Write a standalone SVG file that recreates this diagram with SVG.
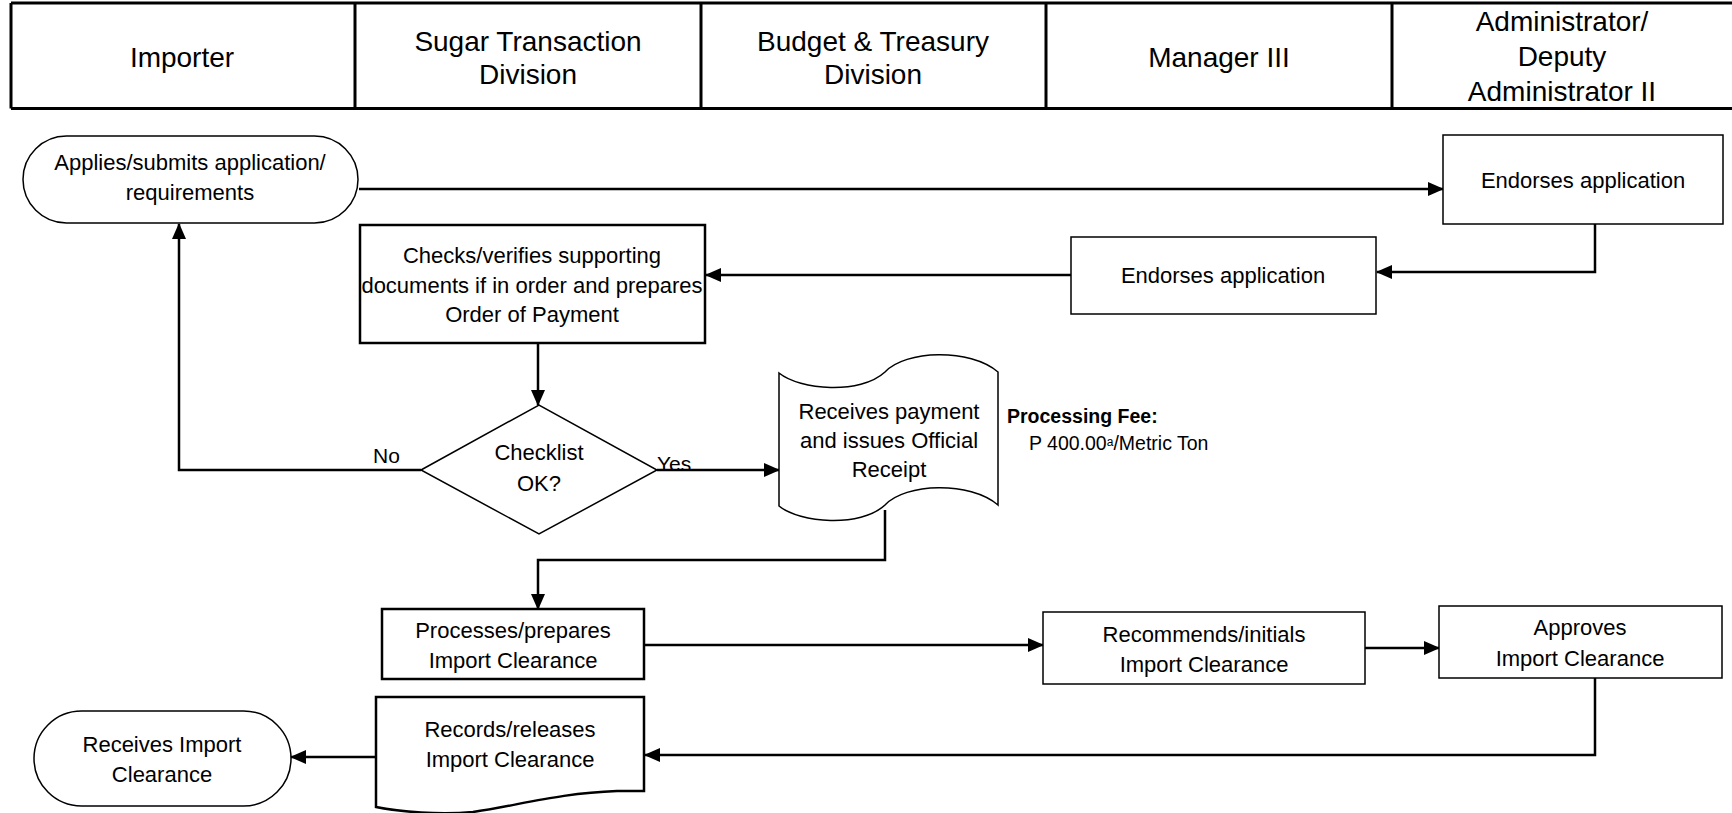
<svg xmlns="http://www.w3.org/2000/svg" width="1732" height="813" viewBox="0 0 1732 813">
<defs>
<marker id="arr" markerUnits="userSpaceOnUse" markerWidth="16" markerHeight="14" refX="15" refY="7" orient="auto"><path d="M0,0 L16,7 L0,14 z" fill="#000"/></marker>
</defs>
<style>
text{font-family:"Liberation Sans",Arial,sans-serif;fill:#000}
.h{font-size:28px;text-anchor:middle}
.t{font-size:22px;text-anchor:middle}
.thin{fill:#fff;stroke:#000;stroke-width:1.5}
.thick{fill:#fff;stroke:#000;stroke-width:2.5}
.c{fill:none;stroke:#000;stroke-width:2.5}
.ca{fill:none;stroke:#000;stroke-width:2.5;marker-end:url(#arr)}
.lbl{font-size:21px}
</style>
<rect width="1732" height="813" fill="#fff"/>
<g id="header">
<path d="M11,3 H1732 M11,108.5 H1732 M11,3 V108.5 M355,3 V108.5 M701,3 V108.5 M1046,3 V108.5 M1392,3 V108.5" stroke="#000" stroke-width="3" fill="none"/>
<text class="h" x="182" y="67">Importer</text>
<text class="h" x="528" y="51">Sugar Transaction</text>
<text class="h" x="528" y="84">Division</text>
<text class="h" x="873" y="51">Budget &amp; Treasury</text>
<text class="h" x="873" y="84">Division</text>
<text class="h" x="1219" y="67">Manager III</text>
<text class="h" x="1562" y="31">Administrator/</text>
<text class="h" x="1562" y="66">Deputy</text>
<text class="h" x="1562" y="101">Administrator II</text>
</g>
<g id="connectors">
<path class="ca" d="M359,189 H1443"/>
<path class="ca" d="M1595,224 V272 H1377"/>
<path class="ca" d="M1071,275 H706"/>
<path class="ca" d="M538,343 V405"/>
<path class="ca" d="M421,470 H179 V224"/>
<path class="ca" d="M657,470 H779"/>
<path class="ca" d="M885,510 V560 H538 V609"/>
<path class="ca" d="M644,645 H1043"/>
<path class="ca" d="M1365,648 H1439"/>
<path class="ca" d="M1595,678 V755 H645"/>
<path class="ca" d="M376,757 H291"/>
</g>
<g id="n-applies">
<rect class="thin" x="23" y="136" width="335" height="87" rx="43.5" ry="43.5"/>
<text class="t" x="190" y="170">Applies/submits application/</text>
<text class="t" x="190" y="200">requirements</text>
</g>
<g id="n-endorse-admin">
<rect class="thin" x="1443" y="135" width="280" height="89"/>
<text class="t" x="1583" y="188">Endorses application</text>
</g>
<g id="n-endorse-mgr">
<rect class="thin" x="1071" y="237" width="305" height="77"/>
<text class="t" x="1223" y="283">Endorses application</text>
</g>
<g id="n-checks">
<rect class="thick" x="360" y="225" width="345" height="118"/>
<text class="t" x="532" y="263">Checks/verifies supporting</text>
<text class="t" x="532" y="293">documents if in order and prepares</text>
<text class="t" x="532" y="322">Order of Payment</text>
</g>
<g id="n-decision">
<path class="thin" d="M421,470 L539,405 L657,470 L539,534 Z"/>
<text class="t" x="539" y="460">Checklist</text>
<text class="t" x="539" y="491">OK?</text>
<text class="lbl" x="373" y="463">No</text>
<text class="lbl" x="657" y="471">Yes</text>
</g>
<g id="n-payment">
<path class="thin" d="M779,373 C800,390 860,395 885,372 C905,350 970,348 998,372 V505 C970,481 905,483 885,505 C860,528 800,523 779,506 Z"/>
<text class="t" x="889" y="419">Receives payment</text>
<text class="t" x="889" y="448">and issues Official</text>
<text class="t" x="889" y="477">Receipt</text>
</g>
<g id="n-fee">
<text x="1007" y="423" font-size="19.5" font-weight="bold">Processing Fee:</text>
<text x="1029" y="450" font-size="19.5">P 400.00<tspan font-size="12" dy="-4">a</tspan><tspan dy="4">/Metric Ton</tspan></text>
</g>
<g id="n-processes">
<rect class="thick" x="382" y="609" width="262" height="70"/>
<text class="t" x="513" y="638">Processes/prepares</text>
<text class="t" x="513" y="668">Import Clearance</text>
</g>
<g id="n-recommends">
<rect class="thin" x="1043" y="612" width="322" height="72"/>
<text class="t" x="1204" y="642">Recommends/initials</text>
<text class="t" x="1204" y="672">Import Clearance</text>
</g>
<g id="n-approves">
<rect class="thin" x="1439" y="606" width="283" height="72"/>
<text class="t" x="1580" y="635">Approves</text>
<text class="t" x="1580" y="666">Import Clearance</text>
</g>
<g id="n-records">
<path class="thick" d="M376,697 H644 V791 H617 C560,793 520,805 473,812 C440,815 400,812 376,807 Z"/>
<text class="t" x="510" y="737">Records/releases</text>
<text class="t" x="510" y="767">Import Clearance</text>
</g>
<g id="n-receives">
<rect class="thin" x="34" y="711" width="257" height="95" rx="47.5" ry="47.5"/>
<text class="t" x="162" y="752">Receives Import</text>
<text class="t" x="162" y="782">Clearance</text>
</g>
</svg>
